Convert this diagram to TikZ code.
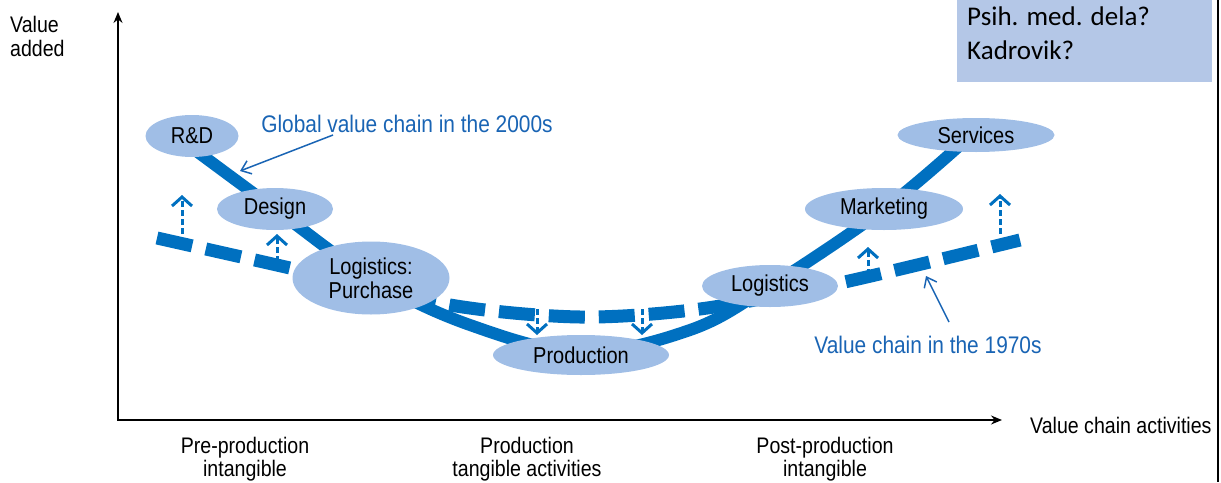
\documentclass[tikz,border=0pt]{standalone}
\usepackage{fontspec}
\setmainfont{Liberation Sans}
\newfontfamily\cond[FakeStretch=0.87]{Liberation Sans}
\newfontfamily\boxfont{Carlito}
\usetikzlibrary{arrows.meta,shapes.geometric}
\definecolor{chainblue}{RGB}{0,112,192}
\definecolor{txtblue}{RGB}{25,100,180}
\definecolor{ellfill}{RGB}{160,190,230}
\definecolor{notefill}{RGB}{180,199,231}
\tikzset{
  stage/.style={ellipse,fill=ellfill,inner sep=0pt,font=\cond\fontsize{23}{24}\selectfont,align=center},
  axislbl/.style={font=\cond\fontsize{22.5}{23.5}\selectfont,align=center},
  bluelbl/.style={font=\cond\fontsize{24}{26}\selectfont,text=txtblue},
  chain2000/.style={line width=12pt,chainblue},
  chain1970/.style={line width=13pt,chainblue,dash pattern=on 36pt off 14pt},
  shiftarrow/.style={line width=3pt,chainblue,dash pattern=on 6pt off 3pt,-{Straight Barb[length=9pt,width=20pt,line width=3pt]}},
  pointer/.style={line width=1.5pt,txtblue,-{Straight Barb[length=9pt,width=14pt,line width=1.5pt]}},
  axis/.style={line width=1.4pt,black,-{Stealth[length=11pt,width=9pt]}}
}
\begin{document}
\begin{tikzpicture}[x=1pt,y=-1pt]
\useasboundingbox (0,0) rectangle (1221,482);
% axes
\coordinate (o) at (118,420);
\coordinate (ytop) at (118,12);
\coordinate (xend) at (1002,420);
\draw[line width=1.4pt] (118,420.7) -- (118,419);
\draw[axis] (o) -- (ytop);
\draw[axis] ([xshift=-0.7pt]o) -- (xend);
\node[axislbl,align=left,anchor=north west,inner sep=0pt] (ylab) at (10,16) {Value\\added};
\node[axislbl,anchor=west,inner sep=0pt] (xlab) at (1030,425) {Value chain activities};
\node[axislbl] (b1) at (245,459) {Pre-production\\intangible};
\node[axislbl] (b2) at (527,459) {Production\\tangible activities};
\node[axislbl] (b3) at (825,459) {Post-production\\intangible};
% 1970s dashed chain
\draw[chain1970] plot[smooth,tension=0.5] coordinates {(157,238) (290,268) (450,305) (580,317) (700,309) (840,283) (1020,240)};
% 2000s chain
\draw[chain2000] plot[smooth,tension=0.6] coordinates {(195,150) (275,209) (371,278) (470,325) (581,352) (690,330) (770,286) (884,209) (968,138)};
% stages
\node[stage,minimum width=93pt,minimum height=42pt] (rd) at (192,136) {R\&D};
\node[stage,minimum width=116pt,minimum height=42pt] (design) at (275,209) {Design};
\node[stage,minimum width=157pt,minimum height=73pt] (lp) at (371,278) {Logistics:\\Purchase};
\node[stage,minimum width=176pt,minimum height=40pt] (prod) at (581,355) {Production};
\node[stage,minimum width=136pt,minimum height=42pt] (log) at (770,286) {Logistics};
\node[stage,minimum width=158pt,minimum height=42pt] (mkt) at (884,209) {Marketing};
\node[stage,minimum width=157pt,minimum height=34pt] (serv) at (976,135) {Services};
% shift arrows
\coordinate (a1s) at (182,234); \coordinate (a1e) at (182,195);
\coordinate (a2s) at (277,262); \coordinate (a2e) at (277,234);
\coordinate (a3s) at (537,309); \coordinate (a3e) at (537,335);
\coordinate (a4s) at (642,309); \coordinate (a4e) at (642,335);
\coordinate (a5s) at (868,275); \coordinate (a5e) at (868,247);
\coordinate (a6s) at (1000,234); \coordinate (a6e) at (1000,194);
\foreach \i in {1,...,6} {\draw[shiftarrow] (a\i s) -- (a\i e);}
% labels with pointers
\node[bluelbl] (g2000) at (407,124) {Global value chain in the 2000s};
\coordinate (g2000tip) at (240,171);
\draw[pointer] (333,135) -- (g2000tip);
\node[bluelbl] (v1970) at (928,345) {Value chain in the 1970s};
\coordinate (v1970tip) at (926,276);
\draw[pointer] (949,322) -- (v1970tip);
% note box
\node[fill=notefill,anchor=north west,minimum width=255pt,minimum height=82pt,inner sep=0pt] (note) at (957,0) {};
\node[anchor=north west,align=left,inner sep=0pt,font=\boxfont\fontsize{27}{34}\selectfont] (notetxt) at (967,7) {Psih. med. dela?\\Kadrovik?};
\draw[line width=2pt,black] (1218,0) -- (1218,482);
\end{tikzpicture}
\end{document}
